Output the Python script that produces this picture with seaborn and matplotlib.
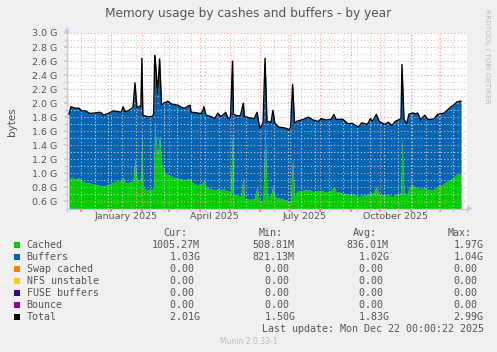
import numpy as np
import pandas as pd
import seaborn as sns
import matplotlib.pyplot as plt
from matplotlib.patches import Rectangle, Polygon

# days counted from 2025-01-01, values in G
days = [-43, -41, -37, -33, -30, -26, -22, -17, -12, -10, -8, -3, 2, 7, 10, 12, 14, 17, 20, 22,
        24, 26, 29, 30, 31, 32, 36, 41, 42, 43, 44, 45, 46, 47, 49, 51, 54, 56, 57, 61,
        64, 68, 71, 75, 78, 80, 81, 86, 91, 93, 94, 96, 98, 101, 105, 108, 111, 114, 116, 118,
        120, 121, 123, 124, 128, 131, 134, 135, 141, 145, 148, 150, 151, 154, 156, 158, 160, 162, 164, 166,
        170, 175, 178, 180, 182, 184, 186, 188, 190, 195, 200, 205, 210, 213, 218, 223, 226, 228, 230, 235,
        240, 245, 246, 251, 254, 260, 263, 265, 269, 272, 276, 278, 281, 285, 288, 291, 294, 295, 297, 300,
        302, 303, 306, 309, 311, 314, 318, 321, 325, 328, 331, 335, 338, 341, 345, 348, 351, 355]
total = [1.84, 1.95, 1.93, 1.93, 1.89, 1.89, 1.855, 1.86, 1.87, 1.86, 1.83, 1.855, 1.89, 1.88, 1.87, 1.95, 1.88, 1.89, 1.92, 1.94,
         2.29, 1.93, 1.96, 1.95, 2.64, 1.83, 1.81, 1.81, 1.82, 1.85, 2.68, 2.55, 2.35, 2.14, 2.63, 1.97, 2.01, 2.01, 2.03, 1.99,
         1.98, 1.97, 1.94, 1.93, 1.96, 1.97, 1.87, 1.865, 1.85, 1.90, 1.95, 1.83, 1.82, 1.81, 1.78, 1.86, 1.81, 1.84, 1.87, 1.80,
         1.78, 1.80, 2.60, 1.84, 1.82, 1.82, 2.00, 1.81, 1.79, 1.78, 1.87, 1.69, 1.64, 1.72, 2.64, 1.73, 1.74, 1.72, 1.90, 1.71,
         1.66, 1.65, 1.64, 1.62, 1.66, 2.27, 1.71, 1.74, 1.75, 1.77, 1.80, 1.76, 1.74, 1.78, 1.76, 1.77, 1.84, 1.77, 1.77, 1.77,
         1.71, 1.71, 1.70, 1.66, 1.72, 1.70, 1.78, 1.74, 1.84, 1.74, 1.71, 1.70, 1.73, 1.68, 1.74, 1.76, 1.78, 2.55, 1.77, 1.71,
         1.84, 1.85, 1.86, 1.85, 1.86, 1.76, 1.83, 1.77, 1.77, 1.78, 1.84, 1.85, 1.86, 1.90, 1.95, 1.98, 2.02, 2.03]
cached = [0.90, 0.94, 0.92, 0.94, 0.89, 0.87, 0.86, 0.845, 0.83, 0.82, 0.82, 0.845, 0.87, 0.90, 0.90, 0.95, 0.86, 0.87, 0.88, 0.90,
          1.21, 0.90, 0.92, 0.92, 1.62, 0.80, 0.76, 0.77, 0.78, 0.80, 1.76, 1.55, 1.35, 1.26, 1.55, 1.14, 1.02, 0.99, 0.98, 0.955,
          0.94, 0.93, 0.92, 0.91, 0.93, 0.92, 0.88, 0.84, 0.85, 0.86, 0.91, 0.80, 0.79, 0.78, 0.76, 0.78, 0.76, 0.785, 0.76, 0.75,
          0.74, 0.715, 1.60, 0.70, 0.69, 0.67, 0.95, 0.64, 0.63, 0.64, 0.81, 0.62, 0.595, 0.62, 1.69, 0.66, 0.69, 0.68, 0.845, 0.665,
          0.65, 0.63, 0.62, 0.60, 0.61, 1.21, 0.66, 0.74, 0.75, 0.76, 0.77, 0.74, 0.76, 0.75, 0.74, 0.75, 0.81, 0.74, 0.74, 0.715,
          0.70, 0.71, 0.70, 0.665, 0.69, 0.69, 0.74, 0.70, 0.81, 0.70, 0.69, 0.69, 0.70, 0.665, 0.70, 0.715, 0.72, 1.52, 0.72, 0.69,
          0.79, 0.81, 0.83, 0.80, 0.79, 0.78, 0.80, 0.77, 0.76, 0.78, 0.81, 0.83, 0.86, 0.88, 0.92, 0.955, 0.99, 1.00]

names = ["Cached", "Buffers", "Swap cached", "NFS unstable", "FUSE buffers", "Bounce", "Total"]
colors = ["#00CC00", "#0066B3", "#FF8000", "#FFCC00", "#330099", "#990099", "#000000"]
cur = ["1005.27M", "   1.03G", "   0.00", "   0.00", "   0.00", "   0.00", "   2.01G"]
mins = ["508.81M", "821.13M", "  0.00", "  0.00", "  0.00", "  0.00", "  1.50G"]
avgs = ["836.01M", "  1.02G", "  0.00", "  0.00", "  0.00", "  0.00", "  1.83G"]
maxs = ["1.97G", "1.04G", "0.00", "0.00", "0.00", "0.00", "2.99G"]
quarter_labels = ["January 2025", "April 2025", "July 2025", "October 2025"]
quarter_mid = ["2025-01-16", "2025-04-16", "2025-07-16", "2025-10-16"]

sns.set_theme(style="white")
plt.rcParams['font.family'] = ['DejaVu Sans']
txt = '#555555'
axis_col = '#c4c8f4'

t0 = pd.Timestamp("2025-01-01")
df = pd.DataFrame({"date": t0 + pd.to_timedelta(days, unit="D"), "total": total, "cached": cached})
df["buffers"] = df["total"] - df["cached"]

W, H = 497, 352
fig = plt.figure(figsize=(W / 100, H / 100), dpi=100, facecolor='#F0F0F0')
L, R, T, B = 67, 467, 33, 208.5
ax = fig.add_axes([L / W, 1 - B / H, (R - L) / W, (B - T) / H])
ax.set_facecolor('white')

ax.fill_between(df["date"], 0, df["cached"], color=colors[0], lw=0, zorder=1)
ax.fill_between(df["date"], df["cached"], df["cached"] + df["buffers"], color=colors[1], lw=0, zorder=1)
sns.lineplot(data=df, x="date", y="total", color='black', lw=1.0, ax=ax, zorder=3)

ax.set_xlim(t0 - pd.Timedelta(days=43.3), t0 + pd.Timedelta(days=356.7))
ax.set_ylim(0.5, 3.0)
ax.set_xlabel('')
ax.set_ylabel('')

ax.set_xticks(pd.date_range("2024-12-01", "2025-12-01", freq="MS"))
ax.set_xticks(pd.date_range("2024-11-17", "2025-12-31", freq="14D"), minor=True)
ax.set_xticklabels([])
ax.set_yticks(np.arange(0.6, 3.01, 0.2))
ax.set_yticks(np.arange(0.7, 2.91, 0.2), minor=True)
ax.set_yticklabels(["%.1f G" % v for v in np.arange(0.6, 3.01, 0.2)], fontsize=6.8, color=txt)

ax.set_axisbelow(False)
ax.grid(which='major', color='#ff9a9a', ls=(0, (1, 2)), lw=0.8)
ax.grid(which='minor', color='#d2d2d2', ls=(0, (1, 2)), lw=0.8)
ax.tick_params(axis='x', which='major', length=2, color='#ff8080', direction='out', bottom=True)
ax.tick_params(axis='x', which='minor', length=2, color='#cccccc', direction='out', bottom=True)
ax.tick_params(axis='y', which='both', length=2, color='#cccccc', pad=5, left=True)

for s in ['top', 'right']:
    ax.spines[s].set_visible(False)
for s in ['left', 'bottom']:
    ax.spines[s].set_color(axis_col)
    ax.spines[s].set_linewidth(1)

for lab, d in zip(quarter_labels, quarter_mid):
    ax.text(pd.Timestamp(d), -0.043, lab, transform=ax.get_xaxis_transform(),
            ha='center', va='center', fontsize=6.8, color=txt)

# overlay in pixel coordinates for the munin/rrdtool decorations
ov = fig.add_axes([0, 0, 1, 1], zorder=5)
ov.set_xlim(0, W)
ov.set_ylim(H, 0)
ov.axis('off')
ov.patch.set_alpha(0)

ov.add_patch(Polygon([[64, 33], [70, 33], [67, 27]], closed=True, color=axis_col, lw=0))
ov.add_patch(Polygon([[467, 205.5], [467, 211.5], [473, 208.5]], closed=True, color=axis_col, lw=0))

ov.text(248, 13, "Memory usage by cashes and buffers - by year", ha='center', va='center',
        fontsize=8.7, color=txt)
ov.text(12, 122, "bytes", rotation=90, ha='center', va='center', fontsize=7.5, color=txt)
ov.text(487, 56, "RRDTOOL / TOBI OETIKER", rotation=270, ha='center', va='center',
        fontsize=5.3, color='#bbbbbb')

mono = dict(family='DejaVu Sans Mono', fontsize=7.2, color=txt, va='center', ha='left')
ov.text(163.7, 233.3, "Cur:", **mono)
ov.text(259, 233.3, "Min:", **mono)
ov.text(353.3, 233.3, "Avg:", **mono)
ov.text(447.7, 233.3, "Max:", **mono)
for i, name in enumerate(names):
    y = 245.3 + 12 * i
    ov.add_patch(Rectangle((14, y - 3), 6, 6, color=colors[i], lw=0))
    ov.text(26.7, y, name, **mono)
    ov.text(151.7, y, cur[i], **mono)
    ov.text(252.7, y, mins[i], **mono)
    ov.text(346.7, y, avgs[i], **mono)
    ov.text(453.3, y, maxs[i], **mono)
ov.text(261.7, 329.3, "Last update: Mon Dec 22 00:00:22 2025", **mono)
ov.text(248.5, 341, "Munin 2.0.33-1", ha='center', va='center', fontsize=5.5, color='#bbbbbb')

fig.savefig("out.png", dpi=100, facecolor=fig.get_facecolor())
